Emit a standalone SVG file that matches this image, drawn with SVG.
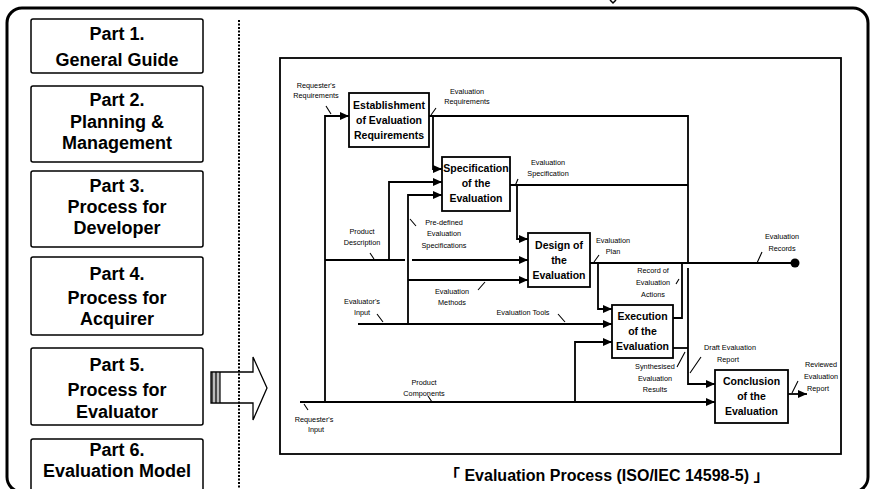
<svg xmlns="http://www.w3.org/2000/svg" width="871" height="489" viewBox="0 0 871 489">
<defs>
<marker id="ah" markerUnits="userSpaceOnUse" markerWidth="9" markerHeight="8" refX="9" refY="4" orient="auto">
<path d="M0,0 L9,4 L0,8 z" fill="#000"/>
</marker>
<style>
.part rect{fill:#fff;stroke:#000;stroke-width:1.5}
.pt{font-family:"Liberation Sans",Arial,sans-serif;font-weight:bold;font-size:18px;text-anchor:middle;fill:#000}
.box rect{fill:#fff;stroke:#000;stroke-width:1.8}
.bt{font-family:"Liberation Sans",Arial,sans-serif;font-weight:bold;font-size:10.5px;text-anchor:middle;fill:#000}
.lb{font-family:"Liberation Sans",Arial,sans-serif;font-size:7.3px;text-anchor:middle;fill:#000}
.cn{fill:none;stroke:#000;stroke-width:1.8}
.ar{marker-end:url(#ah)}
.tk{fill:none;stroke:#000;stroke-width:1.1}
</style>
</defs>
<rect x="7" y="8" width="861" height="484" rx="15" fill="#fff" stroke="#000" stroke-width="3"/>
<path d="M610,0 L613,3 L616,0" fill="none" stroke="#000" stroke-width="1.5"/>

<g id="part1" class="part"><rect x="31" y="19" width="172" height="54" rx="2"/><text class="pt" x="117" y="40">Part 1.</text><text class="pt" x="117" y="66">General Guide</text></g>
<g id="part2" class="part"><rect x="31" y="86" width="172" height="76" rx="2"/><text class="pt" x="117" y="106">Part 2.</text><text class="pt" x="117" y="128">Planning &amp;</text><text class="pt" x="117" y="149">Management</text></g>
<g id="part3" class="part"><rect x="31" y="171" width="172" height="76" rx="2"/><text class="pt" x="117" y="192">Part 3.</text><text class="pt" x="117" y="213">Process for</text><text class="pt" x="117" y="234">Developer</text></g>
<g id="part4" class="part"><rect x="31" y="257" width="172" height="78" rx="2"/><text class="pt" x="117" y="280">Part 4.</text><text class="pt" x="117" y="304">Process for</text><text class="pt" x="117" y="325">Acquirer</text></g>
<g id="part5" class="part"><rect x="31" y="348" width="172" height="77" rx="2"/><text class="pt" x="117" y="371">Part 5.</text><text class="pt" x="117" y="396">Process for</text><text class="pt" x="117" y="418">Evaluator</text></g>
<g id="part6" class="part"><rect x="31" y="439" width="172" height="60" rx="2"/><text class="pt" x="117" y="456">Part 6.</text><text class="pt" x="117" y="477">Evaluation Model</text></g>

<g id="blockarrow">
<polygon points="211,372 253,372 253,357 267,388 253,420 253,403 211,403" fill="#fff" stroke="#000" stroke-width="1.3"/>
<rect x="212" y="373" width="8" height="29" fill="#bbb"/>
<path d="M212,372 V403 M216,372 V403 M220,372 V403" stroke="#000" stroke-width="1.2"/>
</g>
<line x1="239" y1="20" x2="239" y2="489" stroke="#000" stroke-width="2" stroke-dasharray="2 1.5"/>

<rect id="process-frame" x="280" y="58" width="561" height="396" fill="none" stroke="#000" stroke-width="1.8"/>

<g id="connectors">
<path class="cn ar" d="M300,402 H715"/>
<path class="cn ar" d="M325,402 V116 H349"/>
<path class="cn" d="M325,260 H405"/>
<path class="cn ar" d="M412,260 H528"/>
<path class="cn ar" d="M389,260 V182 H442"/>
<path class="cn ar" d="M358,324 H612"/>
<path class="cn ar" d="M408,324 V195 H442"/>
<path class="cn ar" d="M408,280 H528"/>
<path class="cn ar" d="M575,402 V342 H612"/>
<path class="cn" d="M429,116 H688 V262"/>
<path class="cn ar" d="M688,268 V384 H715"/>
<path class="cn ar" d="M433,116 V169 H442" stroke-width="1.4"/>
<path class="cn" d="M510,185 H688"/>
<path class="cn ar" d="M517,185 V239 H528" stroke-width="1.4"/>
<path class="cn" d="M590,263 H795"/>
<circle cx="795" cy="263" r="4.5" fill="#000"/>
<path class="cn ar" d="M598,263 V309 H612" stroke-width="1.4"/>
<path class="cn" d="M673,318 H682 V263" stroke-width="1.4"/>
<path class="cn" d="M673,348 H688"/>
<path class="cn ar" d="M788,394 H807"/>
<path class="tk" d="M326,106 L331,114 M431,115 L436,108 M515,186 L518,179 M370,253 L374,259 M410,219 L416,226 M478,290 L485,282 M377,314 L383,322 M558,314 L565,322 M594,262 L599,255 M757,263 L762,252 M676,284 L679,279 M690,373 L701,357 M677,367 L685,352 M792,393 L798,381 M428,396 L432,402 M304,404 L308,410"/>
</g>

<g id="establishment" class="box"><rect x="349" y="93" width="80" height="54"/><text class="bt" x="389" y="109">Establishment</text><text class="bt" x="389" y="124">of Evaluation</text><text class="bt" x="389" y="139">Requirements</text></g>
<g id="specification" class="box"><rect x="442" y="157" width="68" height="54"/><text class="bt" x="476" y="172">Specification</text><text class="bt" x="476" y="187">of the</text><text class="bt" x="476" y="202">Evaluation</text></g>
<g id="design" class="box"><rect x="528" y="233" width="62" height="54"/><text class="bt" x="559" y="249">Design of</text><text class="bt" x="559" y="264">the</text><text class="bt" x="559" y="279">Evaluation</text></g>
<g id="execution" class="box"><rect x="612" y="305" width="61" height="53"/><text class="bt" x="642.5" y="320">Execution</text><text class="bt" x="642.5" y="335">of the</text><text class="bt" x="642.5" y="350">Evaluation</text></g>
<g id="conclusion" class="box"><rect x="715" y="370" width="73" height="53"/><text class="bt" x="751.5" y="385">Conclusion</text><text class="bt" x="751.5" y="400">of the</text><text class="bt" x="751.5" y="415">Evaluation</text></g>

<g id="labels">
<text class="lb" x="316" y="88">Requester's</text><text class="lb" x="316" y="98">Requirements</text>
<text class="lb" x="467" y="94">Evaluation</text><text class="lb" x="467" y="104">Requirements</text>
<text class="lb" x="548" y="165">Evaluation</text><text class="lb" x="548" y="176">Specification</text>
<text class="lb" x="362" y="234">Product</text><text class="lb" x="362" y="245">Description</text>
<text class="lb" x="444" y="225">Pre-defined</text><text class="lb" x="444" y="236">Evaluation</text><text class="lb" x="444" y="248">Specifications</text>
<text class="lb" x="452" y="294">Evaluation</text><text class="lb" x="452" y="305">Methods</text>
<text class="lb" x="362" y="304">Evaluator's</text><text class="lb" x="362" y="315">Input</text>
<text class="lb" x="523" y="315">Evaluation Tools</text>
<text class="lb" x="613" y="243">Evaluation</text><text class="lb" x="613" y="254">Plan</text>
<text class="lb" x="782" y="239">Evaluation</text><text class="lb" x="782" y="251">Records</text>
<text class="lb" x="653" y="273">Record of</text><text class="lb" x="653" y="285">Evaluation</text><text class="lb" x="653" y="297">Actions</text>
<text class="lb" x="730" y="350">Draft Evaluation</text><text class="lb" x="728" y="362">Report</text>
<text class="lb" x="655" y="369">Synthesised</text><text class="lb" x="655" y="381">Evaluation</text><text class="lb" x="655" y="392">Results</text>
<text class="lb" x="821" y="367">Reviewed</text><text class="lb" x="821" y="379">Evaluation</text><text class="lb" x="818" y="391">Report</text>
<text class="lb" x="424" y="385">Product</text><text class="lb" x="424" y="396">Components</text>
<text class="lb" x="314" y="422">Requester's</text><text class="lb" x="316" y="432">Input</text>
</g>

<text x="444" y="481" font-family="'Liberation Sans','Noto Sans CJK KR',sans-serif" font-weight="bold" font-size="16">「 Evaluation Process (ISO/IEC 14598-5) 」</text>
</svg>
